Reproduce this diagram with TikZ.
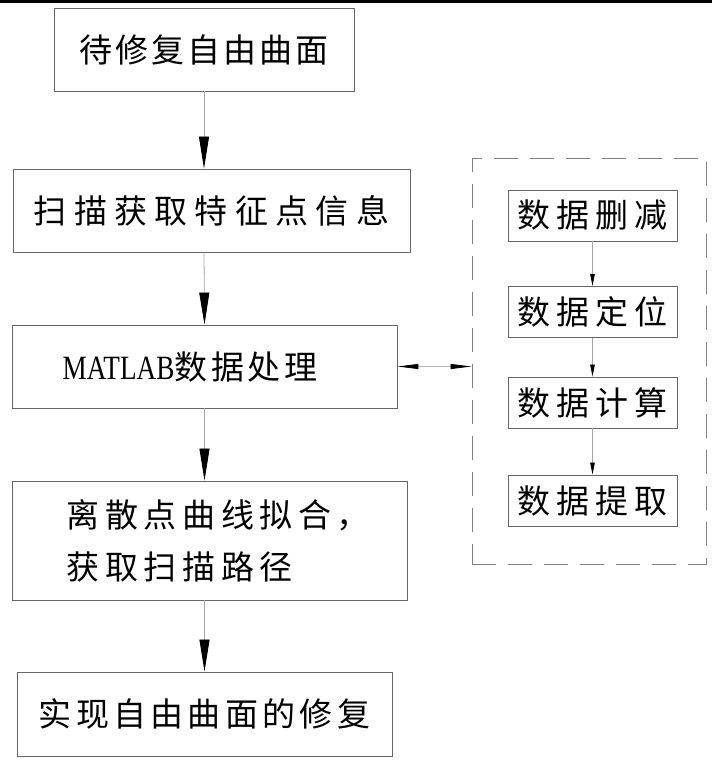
\documentclass[tikz,border=0pt]{standalone}
\usepackage{fontspec}
\usepackage{graphicx}
\usetikzlibrary{arrows.meta}
\newfontfamily\cjk{Noto Sans CJK SC}
\newfontfamily\latinserif{Liberation Serif}
\newcommand{\ls}[1]{\addfontfeature{LetterSpace=#1}}
\begin{document}
\begin{tikzpicture}[x=1pt,y=-1pt,
  box/.style={draw=black!60,line width=0.9pt,inner sep=0pt,font=\cjk\fontsize{33}{36}\selectfont},
  sbox/.style={draw=black!60,line width=0.9pt,inner sep=0pt,minimum width=169pt,minimum height=51pt,font=\cjk\fontsize{33}{36}\selectfont\ls{18}},
  txt/.style={inner sep=0pt,font=\cjk\fontsize{33}{52}\selectfont\ls{17}},
  flow/.style={draw=black!35,line width=0.8pt,-{Triangle[length=32pt,width=10pt,color=black]}},
  sflow/.style={draw=black!35,line width=0.8pt,-{Triangle[length=12pt,width=4.5pt,color=black]}},
  dflow/.style={draw=black!30,line width=0.8pt,{Triangle[length=21pt,width=5pt,color=black]}-{Triangle[length=21pt,width=5pt,color=black]}},
  grpbox/.style={draw=black!50,line width=0.9pt,dash pattern=on 24pt off 12pt,inner sep=0pt}
]
\useasboundingbox (0,0) rectangle (712,760);
\fill[black] (0,0) rectangle (712,3);
% main column
\node[box,minimum width=300pt,minimum height=83pt] (b1) at (204,49.5) {\ls{9}待修复自由曲面};
\node[box,minimum width=397pt,minimum height=83pt] (b2) at (211.5,210.5) {\ls{22}扫描获取特征点信息};
\node[box,minimum width=385pt,minimum height=83pt] (b3) at (204.5,366.5) {};
\node[txt] (t3) at (190,366.5) {\latinserif\fontsize{34}{36}\selectfont\scalebox{0.8}[1]{MATLAB}\cjk\fontsize{33}{36}\selectfont\ls{11}数据处理};
\node[box,minimum width=395pt,minimum height=119pt] (b4) at (209.5,540.5) {};
\node[txt,anchor=west,align=left] (t4) at ([xshift=55pt]b4.west) {离散点曲线拟合，\\获取扫描路径};
\node[box,minimum width=375pt,minimum height=84pt] (b5) at (204.5,714) {\ls{13}实现自由曲面的修复};
% group
\node[grpbox,minimum width=234pt,minimum height=406pt] (grp) at (589,361) {};
\node[sbox] (s1) at (592.5,215.5) {数据删减};
\node[sbox] (s2) at (592.5,312) {数据定位};
\node[sbox] (s3) at (592.5,402.5) {数据计算};
\node[sbox] (s4) at (592.5,500.5) {数据提取};
% connectors
\draw[flow] (b1.south) -- (b1.south |- b2.north);
\draw[flow] (b1.south |- b2.south) -- (b3.north);
\draw[flow] (b3.south) -- (b3.south |- b4.north);
\draw[flow] (b5.north |- b4.south) -- (b5.north);
\draw[sflow] (s1) -- (s2);
\draw[sflow] (s2) -- (s3);
\draw[sflow] (s3) -- (s4);
\draw[dflow] (b3.east) -- (b3.east -| grp.west);
\end{tikzpicture}
\end{document}
